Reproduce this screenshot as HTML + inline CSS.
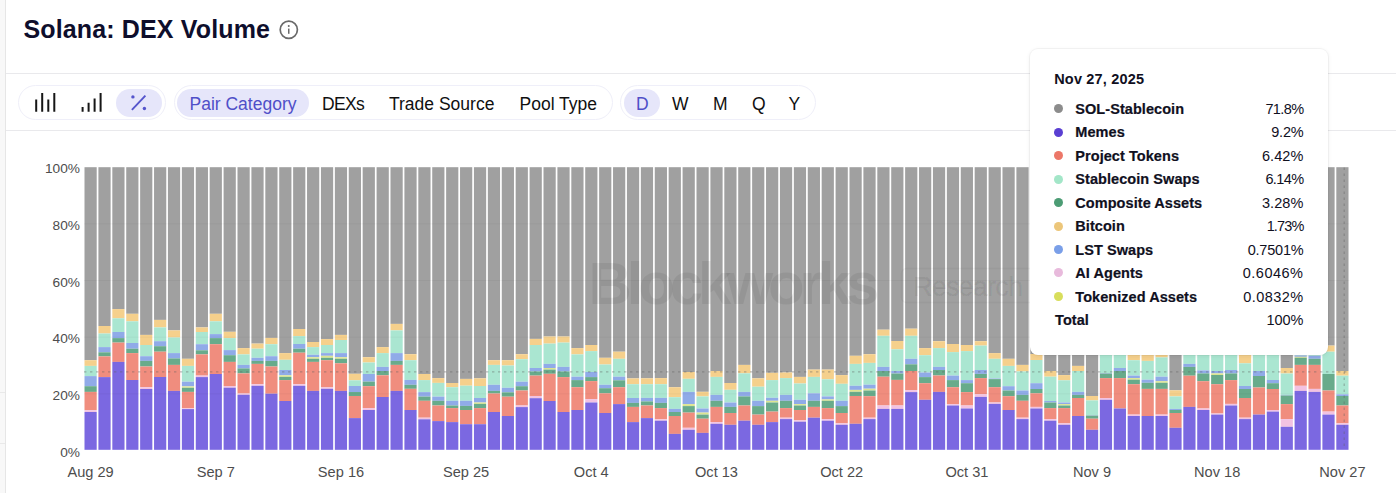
<!DOCTYPE html>
<html><head><meta charset="utf-8"><title>Solana: DEX Volume</title>
<style>
html,body{margin:0;padding:0;}
body{width:1396px;height:493px;overflow:hidden;background:#fff;position:relative;font-family:"Liberation Sans",sans-serif;}
.abs{position:absolute;}
#strip{left:0;top:0;width:5px;height:493px;background:#f8f8f8;border-right:1px solid #e6e6e6;}
.hl{left:6px;right:0;height:1px;background:#e9e9ec;}
#title{left:23.5px;top:13.5px;font-weight:bold;font-size:25px;line-height:30px;color:#0e0e2c;letter-spacing:0.14px;white-space:nowrap;}
.pill{top:85px;height:33px;border:1px solid #efeff9;border-radius:18px;background:#fff;box-sizing:content-box;}
.chip{top:88.5px;height:28px;border-radius:14px;background:#e6e6fa;}
.tb{top:90px;height:28px;line-height:28px;font-size:17.5px;color:#101010;white-space:nowrap;letter-spacing:0px;}
.tb.on{color:#4f4fc8;}
svg text{font-family:"Liberation Sans",sans-serif;}
#tip{left:1029.5px;top:48.5px;width:298.5px;height:306px;background:#fff;border-radius:8px;box-shadow:0 0 0 1px rgba(0,0,0,0.035),0 1px 5px rgba(0,0,0,0.07);}
#tip .hd{position:absolute;left:24.7px;top:20.9px;font-weight:bold;font-size:14.5px;line-height:20px;color:#10101e;letter-spacing:0.18px;white-space:nowrap;}
#tip .row{position:absolute;left:0;width:100%;height:20px;line-height:20px;font-size:14.5px;color:#10101e;}
#tip .dot{position:absolute;left:24.3px;top:5.4px;width:9px;height:9px;border-radius:50%;}
#tip .nm{position:absolute;left:45.8px;top:0;font-weight:bold;-webkit-text-stroke:0.2px #10101e;letter-spacing:0.06px;white-space:nowrap;}
#tip .vl{position:absolute;right:24.5px;top:0;letter-spacing:0px;white-space:nowrap;}
</style></head><body>
<div id="strip" class="abs"></div>
<div class="abs" style="left:0;top:392px;width:5px;height:1px;background:#e9e9e9"></div>
<div class="abs" style="left:0;top:443px;width:5px;height:1px;background:#e9e9e9"></div>
<div class="abs hl" style="top:73px"></div>
<div class="abs hl" style="top:130px"></div>
<div id="title" class="abs">Solana: DEX Volume</div>
<svg class="abs" style="left:278px;top:19px" width="22" height="22" viewBox="0 0 22 22"><circle cx="10.8" cy="10.7" r="8.6" fill="none" stroke="#6a6a6a" stroke-width="1.7"/><rect x="10" y="9.6" width="1.5" height="5.2" fill="#6a6a6a"/><circle cx="10.75" cy="7" r="1" fill="#6a6a6a"/></svg>

<div class="abs pill" style="left:18px;width:145.5px"></div>
<div class="abs chip" style="left:115.5px;width:46.5px"></div>
<svg class="abs" style="left:0;top:80px" width="180" height="45" viewBox="0 80 180 45">
<g stroke="#161616" stroke-width="2" fill="none">
<path d="M36.2 111.7V99.5M42.2 111.7V93M48.3 111.7V99.5M54.3 111.7V93"/>
<path d="M82.6 111.7V107M88.6 111.7V102.7M94.6 111.7V98.4M100.6 111.7V93"/>
</g>
<path d="M131.9 109.8L145.4 95.6" stroke="#5555cc" stroke-width="1.9" fill="none"/>
<circle cx="132.9" cy="96.9" r="1.7" fill="#5555cc"/><circle cx="144.4" cy="108.5" r="1.7" fill="#5555cc"/>
</svg>

<div class="abs pill" style="left:173.5px;width:437.5px"></div>
<div class="abs chip" style="left:176.5px;width:132px"></div>
<div class="abs tb on" id="t1" style="left:189.5px">Pair Category</div>
<div class="abs tb" id="t2" style="left:322px;letter-spacing:-0.7px">DEXs</div>
<div class="abs tb" id="t3" style="left:389px">Trade Source</div>
<div class="abs tb" id="t4" style="left:519.5px">Pool Type</div>

<div class="abs pill" style="left:619.5px;width:194.5px"></div>
<div class="abs chip" style="left:623.5px;width:36px"></div>
<div class="abs tb on" id="t5" style="left:636px">D</div>
<div class="abs tb" id="t6" style="left:672px">W</div>
<div class="abs tb" id="t7" style="left:713px">M</div>
<div class="abs tb" id="t8" style="left:752px">Q</div>
<div class="abs tb" id="t9" style="left:788.5px">Y</div>

<svg class="abs" style="left:0;top:0" width="1396" height="493" viewBox="0 0 1396 493">
<g shape-rendering="auto">
<rect x="84.50" y="167.20" width="12.2" height="193.00" fill="#a0a0a0"/>
<rect x="84.50" y="360.20" width="12.2" height="5.70" fill="#f5d08c"/>
<rect x="84.50" y="365.90" width="12.2" height="10.20" fill="#aae6d1"/>
<rect x="84.50" y="376.10" width="12.2" height="10.10" fill="#90abe8"/>
<rect x="84.50" y="386.20" width="12.2" height="5.70" fill="#68ab8b"/>
<rect x="84.50" y="391.90" width="12.2" height="18.30" fill="#f08d7e"/>
<rect x="84.50" y="410.20" width="12.2" height="1.80" fill="#f2c2e2"/>
<rect x="84.50" y="412.00" width="12.2" height="37.80" fill="#7b68e1"/>
<rect x="98.41" y="167.20" width="12.2" height="158.80" fill="#a0a0a0"/>
<rect x="98.41" y="326.00" width="12.2" height="7.50" fill="#f5d08c"/>
<rect x="98.41" y="333.50" width="12.2" height="13.60" fill="#aae6d1"/>
<rect x="98.41" y="347.10" width="12.2" height="5.20" fill="#90abe8"/>
<rect x="98.41" y="352.30" width="12.2" height="4.10" fill="#68ab8b"/>
<rect x="98.41" y="356.40" width="12.2" height="20.70" fill="#f08d7e"/>
<rect x="98.41" y="377.10" width="12.2" height="72.70" fill="#7b68e1"/>
<rect x="112.32" y="167.20" width="12.2" height="141.90" fill="#a0a0a0"/>
<rect x="112.32" y="309.10" width="12.2" height="9.20" fill="#f5d08c"/>
<rect x="112.32" y="318.30" width="12.2" height="13.70" fill="#aae6d1"/>
<rect x="112.32" y="332.00" width="12.2" height="6.10" fill="#90abe8"/>
<rect x="112.32" y="338.10" width="12.2" height="4.50" fill="#68ab8b"/>
<rect x="112.32" y="342.60" width="12.2" height="19.30" fill="#f08d7e"/>
<rect x="112.32" y="361.90" width="12.2" height="87.90" fill="#7b68e1"/>
<rect x="126.23" y="167.20" width="12.2" height="146.60" fill="#a0a0a0"/>
<rect x="126.23" y="313.80" width="12.2" height="7.50" fill="#f5d08c"/>
<rect x="126.23" y="321.30" width="12.2" height="21.70" fill="#aae6d1"/>
<rect x="126.23" y="343.00" width="12.2" height="5.70" fill="#90abe8"/>
<rect x="126.23" y="348.70" width="12.2" height="4.40" fill="#68ab8b"/>
<rect x="126.23" y="353.10" width="12.2" height="26.90" fill="#f08d7e"/>
<rect x="126.23" y="380.00" width="12.2" height="69.80" fill="#7b68e1"/>
<rect x="140.14" y="167.20" width="12.2" height="167.70" fill="#a0a0a0"/>
<rect x="140.14" y="334.90" width="12.2" height="10.10" fill="#f5d08c"/>
<rect x="140.14" y="345.00" width="12.2" height="11.20" fill="#aae6d1"/>
<rect x="140.14" y="356.20" width="12.2" height="4.70" fill="#90abe8"/>
<rect x="140.14" y="360.90" width="12.2" height="5.60" fill="#68ab8b"/>
<rect x="140.14" y="366.50" width="12.2" height="20.70" fill="#f08d7e"/>
<rect x="140.14" y="387.20" width="12.2" height="1.80" fill="#f2c2e2"/>
<rect x="140.14" y="389.00" width="12.2" height="60.80" fill="#7b68e1"/>
<rect x="154.05" y="167.20" width="12.2" height="152.70" fill="#a0a0a0"/>
<rect x="154.05" y="319.90" width="12.2" height="7.50" fill="#f5d08c"/>
<rect x="154.05" y="327.40" width="12.2" height="13.80" fill="#aae6d1"/>
<rect x="154.05" y="341.20" width="12.2" height="5.00" fill="#90abe8"/>
<rect x="154.05" y="346.20" width="12.2" height="5.50" fill="#68ab8b"/>
<rect x="154.05" y="351.70" width="12.2" height="25.30" fill="#f08d7e"/>
<rect x="154.05" y="377.00" width="12.2" height="72.80" fill="#7b68e1"/>
<rect x="167.95" y="167.20" width="12.2" height="163.20" fill="#a0a0a0"/>
<rect x="167.95" y="330.40" width="12.2" height="7.10" fill="#f5d08c"/>
<rect x="167.95" y="337.50" width="12.2" height="15.60" fill="#aae6d1"/>
<rect x="167.95" y="353.10" width="12.2" height="5.30" fill="#90abe8"/>
<rect x="167.95" y="358.40" width="12.2" height="6.50" fill="#68ab8b"/>
<rect x="167.95" y="364.90" width="12.2" height="26.00" fill="#f08d7e"/>
<rect x="167.95" y="390.90" width="12.2" height="58.90" fill="#7b68e1"/>
<rect x="181.86" y="167.20" width="12.2" height="191.60" fill="#a0a0a0"/>
<rect x="181.86" y="358.80" width="12.2" height="7.10" fill="#f5d08c"/>
<rect x="181.86" y="365.90" width="12.2" height="15.80" fill="#aae6d1"/>
<rect x="181.86" y="381.70" width="12.2" height="4.70" fill="#90abe8"/>
<rect x="181.86" y="386.40" width="12.2" height="1.40" fill="#dbe590"/>
<rect x="181.86" y="387.80" width="12.2" height="4.10" fill="#68ab8b"/>
<rect x="181.86" y="391.90" width="12.2" height="16.40" fill="#f08d7e"/>
<rect x="181.86" y="408.30" width="12.2" height="0.80" fill="#f2c2e2"/>
<rect x="181.86" y="409.10" width="12.2" height="40.70" fill="#7b68e1"/>
<rect x="195.77" y="167.20" width="12.2" height="160.20" fill="#a0a0a0"/>
<rect x="195.77" y="327.40" width="12.2" height="4.60" fill="#f5d08c"/>
<rect x="195.77" y="332.00" width="12.2" height="12.20" fill="#aae6d1"/>
<rect x="195.77" y="344.20" width="12.2" height="6.10" fill="#90abe8"/>
<rect x="195.77" y="350.30" width="12.2" height="4.10" fill="#68ab8b"/>
<rect x="195.77" y="354.40" width="12.2" height="21.20" fill="#f08d7e"/>
<rect x="195.77" y="375.60" width="12.2" height="1.50" fill="#f2c2e2"/>
<rect x="195.77" y="377.10" width="12.2" height="72.70" fill="#7b68e1"/>
<rect x="209.68" y="167.20" width="12.2" height="146.60" fill="#a0a0a0"/>
<rect x="209.68" y="313.80" width="12.2" height="7.50" fill="#f5d08c"/>
<rect x="209.68" y="321.30" width="12.2" height="12.80" fill="#aae6d1"/>
<rect x="209.68" y="334.10" width="12.2" height="4.00" fill="#90abe8"/>
<rect x="209.68" y="338.10" width="12.2" height="6.10" fill="#68ab8b"/>
<rect x="209.68" y="344.20" width="12.2" height="29.80" fill="#f08d7e"/>
<rect x="209.68" y="374.00" width="12.2" height="75.80" fill="#7b68e1"/>
<rect x="223.59" y="167.20" width="12.2" height="164.60" fill="#a0a0a0"/>
<rect x="223.59" y="331.80" width="12.2" height="6.30" fill="#f5d08c"/>
<rect x="223.59" y="338.10" width="12.2" height="12.00" fill="#aae6d1"/>
<rect x="223.59" y="350.10" width="12.2" height="5.10" fill="#90abe8"/>
<rect x="223.59" y="355.20" width="12.2" height="6.70" fill="#68ab8b"/>
<rect x="223.59" y="361.90" width="12.2" height="24.10" fill="#f08d7e"/>
<rect x="223.59" y="386.00" width="12.2" height="1.70" fill="#f2c2e2"/>
<rect x="223.59" y="387.70" width="12.2" height="62.10" fill="#7b68e1"/>
<rect x="237.50" y="167.20" width="12.2" height="180.90" fill="#a0a0a0"/>
<rect x="237.50" y="348.10" width="12.2" height="6.30" fill="#f5d08c"/>
<rect x="237.50" y="354.40" width="12.2" height="10.50" fill="#aae6d1"/>
<rect x="237.50" y="364.90" width="12.2" height="3.50" fill="#90abe8"/>
<rect x="237.50" y="368.40" width="12.2" height="5.00" fill="#68ab8b"/>
<rect x="237.50" y="373.40" width="12.2" height="20.10" fill="#f08d7e"/>
<rect x="237.50" y="393.50" width="12.2" height="1.30" fill="#f2c2e2"/>
<rect x="237.50" y="394.80" width="12.2" height="55.00" fill="#7b68e1"/>
<rect x="251.41" y="167.20" width="12.2" height="176.40" fill="#a0a0a0"/>
<rect x="251.41" y="343.60" width="12.2" height="5.10" fill="#f5d08c"/>
<rect x="251.41" y="348.70" width="12.2" height="9.10" fill="#aae6d1"/>
<rect x="251.41" y="357.80" width="12.2" height="3.10" fill="#90abe8"/>
<rect x="251.41" y="360.90" width="12.2" height="3.00" fill="#68ab8b"/>
<rect x="251.41" y="363.90" width="12.2" height="20.30" fill="#f08d7e"/>
<rect x="251.41" y="384.20" width="12.2" height="1.60" fill="#f2c2e2"/>
<rect x="251.41" y="385.80" width="12.2" height="64.00" fill="#7b68e1"/>
<rect x="265.32" y="167.20" width="12.2" height="170.70" fill="#a0a0a0"/>
<rect x="265.32" y="337.90" width="12.2" height="6.30" fill="#f5d08c"/>
<rect x="265.32" y="344.20" width="12.2" height="12.00" fill="#aae6d1"/>
<rect x="265.32" y="356.20" width="12.2" height="4.70" fill="#90abe8"/>
<rect x="265.32" y="360.90" width="12.2" height="5.60" fill="#68ab8b"/>
<rect x="265.32" y="366.50" width="12.2" height="27.20" fill="#f08d7e"/>
<rect x="265.32" y="393.70" width="12.2" height="56.10" fill="#7b68e1"/>
<rect x="279.23" y="167.20" width="12.2" height="185.90" fill="#a0a0a0"/>
<rect x="279.23" y="353.10" width="12.2" height="6.70" fill="#f5d08c"/>
<rect x="279.23" y="359.80" width="12.2" height="10.20" fill="#aae6d1"/>
<rect x="279.23" y="370.00" width="12.2" height="5.30" fill="#90abe8"/>
<rect x="279.23" y="375.30" width="12.2" height="1.60" fill="#dbe590"/>
<rect x="279.23" y="376.90" width="12.2" height="3.20" fill="#68ab8b"/>
<rect x="279.23" y="380.10" width="12.2" height="20.90" fill="#f08d7e"/>
<rect x="279.23" y="401.00" width="12.2" height="48.80" fill="#7b68e1"/>
<rect x="293.13" y="167.20" width="12.2" height="161.80" fill="#a0a0a0"/>
<rect x="293.13" y="329.00" width="12.2" height="7.10" fill="#f5d08c"/>
<rect x="293.13" y="336.10" width="12.2" height="7.90" fill="#aae6d1"/>
<rect x="293.13" y="344.00" width="12.2" height="4.70" fill="#90abe8"/>
<rect x="293.13" y="348.70" width="12.2" height="4.00" fill="#68ab8b"/>
<rect x="293.13" y="352.70" width="12.2" height="31.50" fill="#f08d7e"/>
<rect x="293.13" y="384.20" width="12.2" height="1.60" fill="#f2c2e2"/>
<rect x="293.13" y="385.80" width="12.2" height="64.00" fill="#7b68e1"/>
<rect x="307.04" y="167.20" width="12.2" height="174.80" fill="#a0a0a0"/>
<rect x="307.04" y="342.00" width="12.2" height="5.10" fill="#f5d08c"/>
<rect x="307.04" y="347.10" width="12.2" height="7.70" fill="#aae6d1"/>
<rect x="307.04" y="354.80" width="12.2" height="2.40" fill="#90abe8"/>
<rect x="307.04" y="357.20" width="12.2" height="1.60" fill="#dbe590"/>
<rect x="307.04" y="358.80" width="12.2" height="3.10" fill="#68ab8b"/>
<rect x="307.04" y="361.90" width="12.2" height="29.00" fill="#f08d7e"/>
<rect x="307.04" y="390.90" width="12.2" height="58.90" fill="#7b68e1"/>
<rect x="320.95" y="167.20" width="12.2" height="171.90" fill="#a0a0a0"/>
<rect x="320.95" y="339.10" width="12.2" height="5.90" fill="#f5d08c"/>
<rect x="320.95" y="345.00" width="12.2" height="8.10" fill="#aae6d1"/>
<rect x="320.95" y="353.10" width="12.2" height="2.70" fill="#90abe8"/>
<rect x="320.95" y="355.80" width="12.2" height="2.00" fill="#dbe590"/>
<rect x="320.95" y="357.80" width="12.2" height="2.40" fill="#68ab8b"/>
<rect x="320.95" y="360.20" width="12.2" height="27.20" fill="#f08d7e"/>
<rect x="320.95" y="387.40" width="12.2" height="1.40" fill="#f2c2e2"/>
<rect x="320.95" y="388.80" width="12.2" height="61.00" fill="#7b68e1"/>
<rect x="334.86" y="167.20" width="12.2" height="167.70" fill="#a0a0a0"/>
<rect x="334.86" y="334.90" width="12.2" height="5.10" fill="#f5d08c"/>
<rect x="334.86" y="340.00" width="12.2" height="13.10" fill="#aae6d1"/>
<rect x="334.86" y="353.10" width="12.2" height="4.10" fill="#90abe8"/>
<rect x="334.86" y="357.20" width="12.2" height="1.60" fill="#dbe590"/>
<rect x="334.86" y="358.80" width="12.2" height="4.50" fill="#68ab8b"/>
<rect x="334.86" y="363.30" width="12.2" height="27.60" fill="#f08d7e"/>
<rect x="334.86" y="390.90" width="12.2" height="58.90" fill="#7b68e1"/>
<rect x="348.77" y="167.20" width="12.2" height="206.60" fill="#a0a0a0"/>
<rect x="348.77" y="373.80" width="12.2" height="6.50" fill="#f5d08c"/>
<rect x="348.77" y="380.30" width="12.2" height="5.70" fill="#aae6d1"/>
<rect x="348.77" y="386.00" width="12.2" height="6.00" fill="#90abe8"/>
<rect x="348.77" y="392.00" width="12.2" height="4.00" fill="#68ab8b"/>
<rect x="348.77" y="396.00" width="12.2" height="22.10" fill="#f08d7e"/>
<rect x="348.77" y="418.10" width="12.2" height="31.70" fill="#7b68e1"/>
<rect x="362.68" y="167.20" width="12.2" height="190.00" fill="#a0a0a0"/>
<rect x="362.68" y="357.20" width="12.2" height="5.30" fill="#f5d08c"/>
<rect x="362.68" y="362.50" width="12.2" height="11.50" fill="#aae6d1"/>
<rect x="362.68" y="374.00" width="12.2" height="7.60" fill="#90abe8"/>
<rect x="362.68" y="381.60" width="12.2" height="4.60" fill="#68ab8b"/>
<rect x="362.68" y="386.20" width="12.2" height="21.90" fill="#f08d7e"/>
<rect x="362.68" y="408.10" width="12.2" height="1.90" fill="#f2c2e2"/>
<rect x="362.68" y="410.00" width="12.2" height="39.80" fill="#7b68e1"/>
<rect x="376.59" y="167.20" width="12.2" height="179.90" fill="#a0a0a0"/>
<rect x="376.59" y="347.10" width="12.2" height="6.00" fill="#f5d08c"/>
<rect x="376.59" y="353.10" width="12.2" height="13.80" fill="#aae6d1"/>
<rect x="376.59" y="366.90" width="12.2" height="4.10" fill="#90abe8"/>
<rect x="376.59" y="371.00" width="12.2" height="4.30" fill="#68ab8b"/>
<rect x="376.59" y="375.30" width="12.2" height="21.70" fill="#f08d7e"/>
<rect x="376.59" y="397.00" width="12.2" height="52.80" fill="#7b68e1"/>
<rect x="390.50" y="167.20" width="12.2" height="156.70" fill="#a0a0a0"/>
<rect x="390.50" y="323.90" width="12.2" height="6.50" fill="#f5d08c"/>
<rect x="390.50" y="330.40" width="12.2" height="22.70" fill="#aae6d1"/>
<rect x="390.50" y="353.10" width="12.2" height="7.80" fill="#90abe8"/>
<rect x="390.50" y="360.90" width="12.2" height="4.00" fill="#68ab8b"/>
<rect x="390.50" y="364.90" width="12.2" height="26.00" fill="#f08d7e"/>
<rect x="390.50" y="390.90" width="12.2" height="58.90" fill="#7b68e1"/>
<rect x="404.41" y="167.20" width="12.2" height="187.00" fill="#a0a0a0"/>
<rect x="404.41" y="354.20" width="12.2" height="6.00" fill="#f5d08c"/>
<rect x="404.41" y="360.20" width="12.2" height="19.70" fill="#aae6d1"/>
<rect x="404.41" y="379.90" width="12.2" height="4.90" fill="#90abe8"/>
<rect x="404.41" y="384.80" width="12.2" height="4.00" fill="#68ab8b"/>
<rect x="404.41" y="388.80" width="12.2" height="21.20" fill="#f08d7e"/>
<rect x="404.41" y="410.00" width="12.2" height="39.80" fill="#7b68e1"/>
<rect x="418.32" y="167.20" width="12.2" height="206.80" fill="#a0a0a0"/>
<rect x="418.32" y="374.00" width="12.2" height="6.10" fill="#f5d08c"/>
<rect x="418.32" y="380.10" width="12.2" height="12.00" fill="#aae6d1"/>
<rect x="418.32" y="392.10" width="12.2" height="4.50" fill="#90abe8"/>
<rect x="418.32" y="396.60" width="12.2" height="4.20" fill="#68ab8b"/>
<rect x="418.32" y="400.80" width="12.2" height="16.90" fill="#f08d7e"/>
<rect x="418.32" y="417.70" width="12.2" height="1.60" fill="#f2c2e2"/>
<rect x="418.32" y="419.30" width="12.2" height="30.50" fill="#7b68e1"/>
<rect x="432.23" y="167.20" width="12.2" height="210.90" fill="#a0a0a0"/>
<rect x="432.23" y="378.10" width="12.2" height="4.80" fill="#f5d08c"/>
<rect x="432.23" y="382.90" width="12.2" height="13.70" fill="#aae6d1"/>
<rect x="432.23" y="396.60" width="12.2" height="4.20" fill="#90abe8"/>
<rect x="432.23" y="400.80" width="12.2" height="4.70" fill="#68ab8b"/>
<rect x="432.23" y="405.50" width="12.2" height="15.60" fill="#f08d7e"/>
<rect x="432.23" y="421.10" width="12.2" height="28.70" fill="#7b68e1"/>
<rect x="446.13" y="167.20" width="12.2" height="215.80" fill="#a0a0a0"/>
<rect x="446.13" y="383.00" width="12.2" height="4.20" fill="#f5d08c"/>
<rect x="446.13" y="387.20" width="12.2" height="13.60" fill="#aae6d1"/>
<rect x="446.13" y="400.80" width="12.2" height="4.70" fill="#90abe8"/>
<rect x="446.13" y="405.50" width="12.2" height="2.60" fill="#68ab8b"/>
<rect x="446.13" y="408.10" width="12.2" height="14.00" fill="#f08d7e"/>
<rect x="446.13" y="422.10" width="12.2" height="27.70" fill="#7b68e1"/>
<rect x="460.04" y="167.20" width="12.2" height="211.70" fill="#a0a0a0"/>
<rect x="460.04" y="378.90" width="12.2" height="6.80" fill="#f5d08c"/>
<rect x="460.04" y="385.70" width="12.2" height="15.10" fill="#aae6d1"/>
<rect x="460.04" y="400.80" width="12.2" height="5.10" fill="#90abe8"/>
<rect x="460.04" y="405.90" width="12.2" height="4.10" fill="#68ab8b"/>
<rect x="460.04" y="410.00" width="12.2" height="14.20" fill="#f08d7e"/>
<rect x="460.04" y="424.20" width="12.2" height="25.60" fill="#7b68e1"/>
<rect x="473.95" y="167.20" width="12.2" height="211.10" fill="#a0a0a0"/>
<rect x="473.95" y="378.30" width="12.2" height="7.70" fill="#f5d08c"/>
<rect x="473.95" y="386.00" width="12.2" height="12.00" fill="#aae6d1"/>
<rect x="473.95" y="398.00" width="12.2" height="4.50" fill="#90abe8"/>
<rect x="473.95" y="402.50" width="12.2" height="1.40" fill="#dbe590"/>
<rect x="473.95" y="403.90" width="12.2" height="4.20" fill="#68ab8b"/>
<rect x="473.95" y="408.10" width="12.2" height="16.10" fill="#f08d7e"/>
<rect x="473.95" y="424.20" width="12.2" height="25.60" fill="#7b68e1"/>
<rect x="487.86" y="167.20" width="12.2" height="193.00" fill="#a0a0a0"/>
<rect x="487.86" y="360.20" width="12.2" height="4.70" fill="#f5d08c"/>
<rect x="487.86" y="364.90" width="12.2" height="19.90" fill="#aae6d1"/>
<rect x="487.86" y="384.80" width="12.2" height="6.10" fill="#90abe8"/>
<rect x="487.86" y="390.90" width="12.2" height="2.60" fill="#68ab8b"/>
<rect x="487.86" y="393.50" width="12.2" height="18.50" fill="#f08d7e"/>
<rect x="487.86" y="412.00" width="12.2" height="37.80" fill="#7b68e1"/>
<rect x="501.77" y="167.20" width="12.2" height="193.00" fill="#a0a0a0"/>
<rect x="501.77" y="360.20" width="12.2" height="5.30" fill="#f5d08c"/>
<rect x="501.77" y="365.50" width="12.2" height="22.30" fill="#aae6d1"/>
<rect x="501.77" y="387.80" width="12.2" height="4.50" fill="#90abe8"/>
<rect x="501.77" y="392.30" width="12.2" height="4.40" fill="#68ab8b"/>
<rect x="501.77" y="396.70" width="12.2" height="19.30" fill="#f08d7e"/>
<rect x="501.77" y="416.00" width="12.2" height="33.80" fill="#7b68e1"/>
<rect x="515.68" y="167.20" width="12.2" height="187.00" fill="#a0a0a0"/>
<rect x="515.68" y="354.20" width="12.2" height="5.00" fill="#f5d08c"/>
<rect x="515.68" y="359.20" width="12.2" height="22.50" fill="#aae6d1"/>
<rect x="515.68" y="381.70" width="12.2" height="4.50" fill="#90abe8"/>
<rect x="515.68" y="386.20" width="12.2" height="4.30" fill="#68ab8b"/>
<rect x="515.68" y="390.50" width="12.2" height="15.00" fill="#f08d7e"/>
<rect x="515.68" y="405.50" width="12.2" height="1.60" fill="#f2c2e2"/>
<rect x="515.68" y="407.10" width="12.2" height="42.70" fill="#7b68e1"/>
<rect x="529.59" y="167.20" width="12.2" height="171.70" fill="#a0a0a0"/>
<rect x="529.59" y="338.90" width="12.2" height="6.10" fill="#f5d08c"/>
<rect x="529.59" y="345.00" width="12.2" height="23.00" fill="#aae6d1"/>
<rect x="529.59" y="368.00" width="12.2" height="3.40" fill="#90abe8"/>
<rect x="529.59" y="371.40" width="12.2" height="4.20" fill="#68ab8b"/>
<rect x="529.59" y="375.60" width="12.2" height="20.40" fill="#f08d7e"/>
<rect x="529.59" y="396.00" width="12.2" height="2.20" fill="#f2c2e2"/>
<rect x="529.59" y="398.20" width="12.2" height="51.60" fill="#7b68e1"/>
<rect x="543.50" y="167.20" width="12.2" height="169.30" fill="#a0a0a0"/>
<rect x="543.50" y="336.50" width="12.2" height="7.10" fill="#f5d08c"/>
<rect x="543.50" y="343.60" width="12.2" height="20.30" fill="#aae6d1"/>
<rect x="543.50" y="363.90" width="12.2" height="4.10" fill="#90abe8"/>
<rect x="543.50" y="368.00" width="12.2" height="1.60" fill="#dbe590"/>
<rect x="543.50" y="369.60" width="12.2" height="4.20" fill="#68ab8b"/>
<rect x="543.50" y="373.80" width="12.2" height="27.20" fill="#f08d7e"/>
<rect x="543.50" y="401.00" width="12.2" height="48.80" fill="#7b68e1"/>
<rect x="557.41" y="167.20" width="12.2" height="169.30" fill="#a0a0a0"/>
<rect x="557.41" y="336.50" width="12.2" height="6.10" fill="#f5d08c"/>
<rect x="557.41" y="342.60" width="12.2" height="24.30" fill="#aae6d1"/>
<rect x="557.41" y="366.90" width="12.2" height="4.50" fill="#90abe8"/>
<rect x="557.41" y="371.40" width="12.2" height="5.70" fill="#68ab8b"/>
<rect x="557.41" y="377.10" width="12.2" height="34.90" fill="#f08d7e"/>
<rect x="557.41" y="412.00" width="12.2" height="37.80" fill="#7b68e1"/>
<rect x="571.32" y="167.20" width="12.2" height="180.90" fill="#a0a0a0"/>
<rect x="571.32" y="348.10" width="12.2" height="6.30" fill="#f5d08c"/>
<rect x="571.32" y="354.40" width="12.2" height="22.30" fill="#aae6d1"/>
<rect x="571.32" y="376.70" width="12.2" height="3.40" fill="#90abe8"/>
<rect x="571.32" y="380.10" width="12.2" height="7.10" fill="#68ab8b"/>
<rect x="571.32" y="387.20" width="12.2" height="22.80" fill="#f08d7e"/>
<rect x="571.32" y="410.00" width="12.2" height="39.80" fill="#7b68e1"/>
<rect x="585.22" y="167.20" width="12.2" height="177.80" fill="#a0a0a0"/>
<rect x="585.22" y="345.00" width="12.2" height="6.10" fill="#f5d08c"/>
<rect x="585.22" y="351.10" width="12.2" height="20.90" fill="#aae6d1"/>
<rect x="585.22" y="372.00" width="12.2" height="5.10" fill="#90abe8"/>
<rect x="585.22" y="377.10" width="12.2" height="4.00" fill="#68ab8b"/>
<rect x="585.22" y="381.10" width="12.2" height="18.00" fill="#f08d7e"/>
<rect x="585.22" y="399.10" width="12.2" height="3.40" fill="#f2c2e2"/>
<rect x="585.22" y="402.50" width="12.2" height="47.30" fill="#7b68e1"/>
<rect x="599.13" y="167.20" width="12.2" height="190.60" fill="#a0a0a0"/>
<rect x="599.13" y="357.80" width="12.2" height="6.70" fill="#f5d08c"/>
<rect x="599.13" y="364.50" width="12.2" height="20.30" fill="#aae6d1"/>
<rect x="599.13" y="384.80" width="12.2" height="3.40" fill="#90abe8"/>
<rect x="599.13" y="388.20" width="12.2" height="5.10" fill="#68ab8b"/>
<rect x="599.13" y="393.30" width="12.2" height="19.70" fill="#f08d7e"/>
<rect x="599.13" y="413.00" width="12.2" height="36.80" fill="#7b68e1"/>
<rect x="613.04" y="167.20" width="12.2" height="184.50" fill="#a0a0a0"/>
<rect x="613.04" y="351.70" width="12.2" height="7.10" fill="#f5d08c"/>
<rect x="613.04" y="358.80" width="12.2" height="17.90" fill="#aae6d1"/>
<rect x="613.04" y="376.70" width="12.2" height="3.60" fill="#90abe8"/>
<rect x="613.04" y="380.30" width="12.2" height="6.90" fill="#68ab8b"/>
<rect x="613.04" y="387.20" width="12.2" height="16.90" fill="#f08d7e"/>
<rect x="613.04" y="404.10" width="12.2" height="45.70" fill="#7b68e1"/>
<rect x="626.95" y="167.20" width="12.2" height="211.20" fill="#a0a0a0"/>
<rect x="626.95" y="378.40" width="12.2" height="5.80" fill="#f5d08c"/>
<rect x="626.95" y="384.20" width="12.2" height="13.80" fill="#aae6d1"/>
<rect x="626.95" y="398.00" width="12.2" height="4.90" fill="#90abe8"/>
<rect x="626.95" y="402.90" width="12.2" height="4.00" fill="#68ab8b"/>
<rect x="626.95" y="406.90" width="12.2" height="15.20" fill="#f08d7e"/>
<rect x="626.95" y="422.10" width="12.2" height="27.70" fill="#7b68e1"/>
<rect x="640.86" y="167.20" width="12.2" height="211.10" fill="#a0a0a0"/>
<rect x="640.86" y="378.30" width="12.2" height="5.90" fill="#f5d08c"/>
<rect x="640.86" y="384.20" width="12.2" height="13.70" fill="#aae6d1"/>
<rect x="640.86" y="397.90" width="12.2" height="3.50" fill="#90abe8"/>
<rect x="640.86" y="401.40" width="12.2" height="4.10" fill="#68ab8b"/>
<rect x="640.86" y="405.50" width="12.2" height="12.60" fill="#f08d7e"/>
<rect x="640.86" y="418.10" width="12.2" height="31.70" fill="#7b68e1"/>
<rect x="654.77" y="167.20" width="12.2" height="210.90" fill="#a0a0a0"/>
<rect x="654.77" y="378.10" width="12.2" height="6.10" fill="#f5d08c"/>
<rect x="654.77" y="384.20" width="12.2" height="13.70" fill="#aae6d1"/>
<rect x="654.77" y="397.90" width="12.2" height="5.00" fill="#90abe8"/>
<rect x="654.77" y="402.90" width="12.2" height="5.20" fill="#68ab8b"/>
<rect x="654.77" y="408.10" width="12.2" height="11.20" fill="#f08d7e"/>
<rect x="654.77" y="419.30" width="12.2" height="1.40" fill="#f2c2e2"/>
<rect x="654.77" y="420.70" width="12.2" height="29.10" fill="#7b68e1"/>
<rect x="668.68" y="167.20" width="12.2" height="220.00" fill="#a0a0a0"/>
<rect x="668.68" y="387.20" width="12.2" height="10.00" fill="#f5d08c"/>
<rect x="668.68" y="397.20" width="12.2" height="11.70" fill="#aae6d1"/>
<rect x="668.68" y="408.90" width="12.2" height="3.10" fill="#90abe8"/>
<rect x="668.68" y="412.00" width="12.2" height="4.00" fill="#68ab8b"/>
<rect x="668.68" y="416.00" width="12.2" height="17.90" fill="#f08d7e"/>
<rect x="668.68" y="433.90" width="12.2" height="15.90" fill="#7b68e1"/>
<rect x="682.59" y="167.20" width="12.2" height="204.80" fill="#a0a0a0"/>
<rect x="682.59" y="372.00" width="12.2" height="6.80" fill="#f5d08c"/>
<rect x="682.59" y="378.80" width="12.2" height="13.10" fill="#aae6d1"/>
<rect x="682.59" y="391.90" width="12.2" height="12.20" fill="#90abe8"/>
<rect x="682.59" y="404.10" width="12.2" height="2.00" fill="#dbe590"/>
<rect x="682.59" y="406.10" width="12.2" height="6.50" fill="#68ab8b"/>
<rect x="682.59" y="412.60" width="12.2" height="15.20" fill="#f08d7e"/>
<rect x="682.59" y="427.80" width="12.2" height="2.00" fill="#f2c2e2"/>
<rect x="682.59" y="429.80" width="12.2" height="20.00" fill="#7b68e1"/>
<rect x="696.50" y="167.20" width="12.2" height="224.60" fill="#a0a0a0"/>
<rect x="696.50" y="391.80" width="12.2" height="4.60" fill="#f5d08c"/>
<rect x="696.50" y="396.40" width="12.2" height="12.10" fill="#aae6d1"/>
<rect x="696.50" y="408.50" width="12.2" height="4.10" fill="#90abe8"/>
<rect x="696.50" y="412.60" width="12.2" height="2.00" fill="#dbe590"/>
<rect x="696.50" y="414.60" width="12.2" height="4.10" fill="#68ab8b"/>
<rect x="696.50" y="418.70" width="12.2" height="14.20" fill="#f08d7e"/>
<rect x="696.50" y="432.90" width="12.2" height="16.90" fill="#7b68e1"/>
<rect x="710.41" y="167.20" width="12.2" height="203.80" fill="#a0a0a0"/>
<rect x="710.41" y="371.00" width="12.2" height="5.90" fill="#f5d08c"/>
<rect x="710.41" y="376.90" width="12.2" height="18.00" fill="#aae6d1"/>
<rect x="710.41" y="394.90" width="12.2" height="5.90" fill="#90abe8"/>
<rect x="710.41" y="400.80" width="12.2" height="6.10" fill="#68ab8b"/>
<rect x="710.41" y="406.90" width="12.2" height="15.20" fill="#f08d7e"/>
<rect x="710.41" y="422.10" width="12.2" height="1.70" fill="#f2c2e2"/>
<rect x="710.41" y="423.80" width="12.2" height="26.00" fill="#7b68e1"/>
<rect x="724.31" y="167.20" width="12.2" height="215.80" fill="#a0a0a0"/>
<rect x="724.31" y="383.00" width="12.2" height="6.80" fill="#f5d08c"/>
<rect x="724.31" y="389.80" width="12.2" height="12.70" fill="#aae6d1"/>
<rect x="724.31" y="402.50" width="12.2" height="4.40" fill="#90abe8"/>
<rect x="724.31" y="406.90" width="12.2" height="6.10" fill="#68ab8b"/>
<rect x="724.31" y="413.00" width="12.2" height="11.80" fill="#f08d7e"/>
<rect x="724.31" y="424.80" width="12.2" height="25.00" fill="#7b68e1"/>
<rect x="738.22" y="167.20" width="12.2" height="197.70" fill="#a0a0a0"/>
<rect x="738.22" y="364.90" width="12.2" height="8.40" fill="#f5d08c"/>
<rect x="738.22" y="373.30" width="12.2" height="18.60" fill="#aae6d1"/>
<rect x="738.22" y="391.90" width="12.2" height="4.50" fill="#90abe8"/>
<rect x="738.22" y="396.40" width="12.2" height="9.10" fill="#68ab8b"/>
<rect x="738.22" y="405.50" width="12.2" height="15.20" fill="#f08d7e"/>
<rect x="738.22" y="420.70" width="12.2" height="29.10" fill="#7b68e1"/>
<rect x="752.13" y="167.20" width="12.2" height="211.10" fill="#a0a0a0"/>
<rect x="752.13" y="378.30" width="12.2" height="8.40" fill="#f5d08c"/>
<rect x="752.13" y="386.70" width="12.2" height="14.10" fill="#aae6d1"/>
<rect x="752.13" y="400.80" width="12.2" height="5.30" fill="#90abe8"/>
<rect x="752.13" y="406.10" width="12.2" height="8.50" fill="#68ab8b"/>
<rect x="752.13" y="414.60" width="12.2" height="10.20" fill="#f08d7e"/>
<rect x="752.13" y="424.80" width="12.2" height="25.00" fill="#7b68e1"/>
<rect x="766.04" y="167.20" width="12.2" height="205.60" fill="#a0a0a0"/>
<rect x="766.04" y="372.80" width="12.2" height="7.30" fill="#f5d08c"/>
<rect x="766.04" y="380.10" width="12.2" height="17.70" fill="#aae6d1"/>
<rect x="766.04" y="397.80" width="12.2" height="3.00" fill="#90abe8"/>
<rect x="766.04" y="400.80" width="12.2" height="1.70" fill="#dbe590"/>
<rect x="766.04" y="402.50" width="12.2" height="9.10" fill="#68ab8b"/>
<rect x="766.04" y="411.60" width="12.2" height="10.50" fill="#f08d7e"/>
<rect x="766.04" y="422.10" width="12.2" height="27.70" fill="#7b68e1"/>
<rect x="779.95" y="167.20" width="12.2" height="205.30" fill="#a0a0a0"/>
<rect x="779.95" y="372.50" width="12.2" height="5.60" fill="#f5d08c"/>
<rect x="779.95" y="378.10" width="12.2" height="16.80" fill="#aae6d1"/>
<rect x="779.95" y="394.90" width="12.2" height="5.90" fill="#90abe8"/>
<rect x="779.95" y="400.80" width="12.2" height="7.30" fill="#68ab8b"/>
<rect x="779.95" y="408.10" width="12.2" height="9.60" fill="#f08d7e"/>
<rect x="779.95" y="417.70" width="12.2" height="1.40" fill="#f2c2e2"/>
<rect x="779.95" y="419.10" width="12.2" height="30.70" fill="#7b68e1"/>
<rect x="793.86" y="167.20" width="12.2" height="209.70" fill="#a0a0a0"/>
<rect x="793.86" y="376.90" width="12.2" height="6.60" fill="#f5d08c"/>
<rect x="793.86" y="383.50" width="12.2" height="16.30" fill="#aae6d1"/>
<rect x="793.86" y="399.80" width="12.2" height="4.30" fill="#90abe8"/>
<rect x="793.86" y="404.10" width="12.2" height="1.40" fill="#dbe590"/>
<rect x="793.86" y="405.50" width="12.2" height="4.50" fill="#68ab8b"/>
<rect x="793.86" y="410.00" width="12.2" height="10.30" fill="#f08d7e"/>
<rect x="793.86" y="420.30" width="12.2" height="1.40" fill="#f2c2e2"/>
<rect x="793.86" y="421.70" width="12.2" height="28.10" fill="#7b68e1"/>
<rect x="807.77" y="167.20" width="12.2" height="202.40" fill="#a0a0a0"/>
<rect x="807.77" y="369.60" width="12.2" height="7.30" fill="#f5d08c"/>
<rect x="807.77" y="376.90" width="12.2" height="16.40" fill="#aae6d1"/>
<rect x="807.77" y="393.30" width="12.2" height="7.50" fill="#90abe8"/>
<rect x="807.77" y="400.80" width="12.2" height="6.10" fill="#68ab8b"/>
<rect x="807.77" y="406.90" width="12.2" height="10.80" fill="#f08d7e"/>
<rect x="807.77" y="417.70" width="12.2" height="32.10" fill="#7b68e1"/>
<rect x="821.68" y="167.20" width="12.2" height="202.40" fill="#a0a0a0"/>
<rect x="821.68" y="369.60" width="12.2" height="9.70" fill="#f5d08c"/>
<rect x="821.68" y="379.30" width="12.2" height="17.10" fill="#aae6d1"/>
<rect x="821.68" y="396.40" width="12.2" height="3.00" fill="#90abe8"/>
<rect x="821.68" y="399.40" width="12.2" height="1.40" fill="#dbe590"/>
<rect x="821.68" y="400.80" width="12.2" height="7.30" fill="#68ab8b"/>
<rect x="821.68" y="408.10" width="12.2" height="11.00" fill="#f08d7e"/>
<rect x="821.68" y="419.10" width="12.2" height="1.60" fill="#f2c2e2"/>
<rect x="821.68" y="420.70" width="12.2" height="29.10" fill="#7b68e1"/>
<rect x="835.59" y="167.20" width="12.2" height="207.90" fill="#a0a0a0"/>
<rect x="835.59" y="375.10" width="12.2" height="8.70" fill="#f5d08c"/>
<rect x="835.59" y="383.80" width="12.2" height="17.00" fill="#aae6d1"/>
<rect x="835.59" y="400.80" width="12.2" height="5.30" fill="#90abe8"/>
<rect x="835.59" y="406.10" width="12.2" height="6.90" fill="#68ab8b"/>
<rect x="835.59" y="413.00" width="12.2" height="10.30" fill="#f08d7e"/>
<rect x="835.59" y="423.30" width="12.2" height="1.50" fill="#f2c2e2"/>
<rect x="835.59" y="424.80" width="12.2" height="25.00" fill="#7b68e1"/>
<rect x="849.50" y="167.20" width="12.2" height="188.60" fill="#a0a0a0"/>
<rect x="849.50" y="355.80" width="12.2" height="8.10" fill="#f5d08c"/>
<rect x="849.50" y="363.90" width="12.2" height="21.90" fill="#aae6d1"/>
<rect x="849.50" y="385.80" width="12.2" height="4.10" fill="#90abe8"/>
<rect x="849.50" y="389.90" width="12.2" height="1.90" fill="#dbe590"/>
<rect x="849.50" y="391.80" width="12.2" height="4.20" fill="#68ab8b"/>
<rect x="849.50" y="396.00" width="12.2" height="27.80" fill="#f08d7e"/>
<rect x="849.50" y="423.80" width="12.2" height="26.00" fill="#7b68e1"/>
<rect x="863.40" y="167.20" width="12.2" height="187.00" fill="#a0a0a0"/>
<rect x="863.40" y="354.20" width="12.2" height="8.70" fill="#f5d08c"/>
<rect x="863.40" y="362.90" width="12.2" height="21.80" fill="#aae6d1"/>
<rect x="863.40" y="384.70" width="12.2" height="4.00" fill="#90abe8"/>
<rect x="863.40" y="388.70" width="12.2" height="1.80" fill="#dbe590"/>
<rect x="863.40" y="390.50" width="12.2" height="5.70" fill="#68ab8b"/>
<rect x="863.40" y="396.20" width="12.2" height="21.50" fill="#f08d7e"/>
<rect x="863.40" y="417.70" width="12.2" height="1.40" fill="#f2c2e2"/>
<rect x="863.40" y="419.10" width="12.2" height="30.70" fill="#7b68e1"/>
<rect x="877.31" y="167.20" width="12.2" height="162.50" fill="#a0a0a0"/>
<rect x="877.31" y="329.70" width="12.2" height="6.10" fill="#f5d08c"/>
<rect x="877.31" y="335.80" width="12.2" height="31.10" fill="#aae6d1"/>
<rect x="877.31" y="366.90" width="12.2" height="4.10" fill="#90abe8"/>
<rect x="877.31" y="371.00" width="12.2" height="5.70" fill="#68ab8b"/>
<rect x="877.31" y="376.70" width="12.2" height="28.80" fill="#f08d7e"/>
<rect x="877.31" y="405.50" width="12.2" height="3.40" fill="#f2c2e2"/>
<rect x="877.31" y="408.90" width="12.2" height="40.90" fill="#7b68e1"/>
<rect x="891.22" y="167.20" width="12.2" height="173.80" fill="#a0a0a0"/>
<rect x="891.22" y="341.00" width="12.2" height="8.30" fill="#f5d08c"/>
<rect x="891.22" y="349.30" width="12.2" height="21.70" fill="#aae6d1"/>
<rect x="891.22" y="371.00" width="12.2" height="2.50" fill="#90abe8"/>
<rect x="891.22" y="373.50" width="12.2" height="6.40" fill="#68ab8b"/>
<rect x="891.22" y="379.90" width="12.2" height="25.60" fill="#f08d7e"/>
<rect x="891.22" y="405.50" width="12.2" height="3.40" fill="#f2c2e2"/>
<rect x="891.22" y="408.90" width="12.2" height="40.90" fill="#7b68e1"/>
<rect x="905.13" y="167.20" width="12.2" height="161.50" fill="#a0a0a0"/>
<rect x="905.13" y="328.70" width="12.2" height="7.10" fill="#f5d08c"/>
<rect x="905.13" y="335.80" width="12.2" height="23.00" fill="#aae6d1"/>
<rect x="905.13" y="358.80" width="12.2" height="5.50" fill="#90abe8"/>
<rect x="905.13" y="364.30" width="12.2" height="6.70" fill="#68ab8b"/>
<rect x="905.13" y="371.00" width="12.2" height="19.10" fill="#f08d7e"/>
<rect x="905.13" y="390.10" width="12.2" height="2.00" fill="#f2c2e2"/>
<rect x="905.13" y="392.10" width="12.2" height="57.70" fill="#7b68e1"/>
<rect x="919.04" y="167.20" width="12.2" height="180.90" fill="#a0a0a0"/>
<rect x="919.04" y="348.10" width="12.2" height="7.10" fill="#f5d08c"/>
<rect x="919.04" y="355.20" width="12.2" height="17.30" fill="#aae6d1"/>
<rect x="919.04" y="372.50" width="12.2" height="4.60" fill="#90abe8"/>
<rect x="919.04" y="377.10" width="12.2" height="6.10" fill="#68ab8b"/>
<rect x="919.04" y="383.20" width="12.2" height="16.60" fill="#f08d7e"/>
<rect x="919.04" y="399.80" width="12.2" height="50.00" fill="#7b68e1"/>
<rect x="932.95" y="167.20" width="12.2" height="174.00" fill="#a0a0a0"/>
<rect x="932.95" y="341.20" width="12.2" height="6.90" fill="#f5d08c"/>
<rect x="932.95" y="348.10" width="12.2" height="18.80" fill="#aae6d1"/>
<rect x="932.95" y="366.90" width="12.2" height="3.10" fill="#90abe8"/>
<rect x="932.95" y="370.00" width="12.2" height="5.50" fill="#68ab8b"/>
<rect x="932.95" y="375.50" width="12.2" height="16.40" fill="#f08d7e"/>
<rect x="932.95" y="391.90" width="12.2" height="57.90" fill="#7b68e1"/>
<rect x="946.86" y="167.20" width="12.2" height="176.80" fill="#a0a0a0"/>
<rect x="946.86" y="344.00" width="12.2" height="8.10" fill="#f5d08c"/>
<rect x="946.86" y="352.10" width="12.2" height="23.50" fill="#aae6d1"/>
<rect x="946.86" y="375.60" width="12.2" height="4.50" fill="#90abe8"/>
<rect x="946.86" y="380.10" width="12.2" height="7.10" fill="#68ab8b"/>
<rect x="946.86" y="387.20" width="12.2" height="16.90" fill="#f08d7e"/>
<rect x="946.86" y="404.10" width="12.2" height="1.40" fill="#f2c2e2"/>
<rect x="946.86" y="405.50" width="12.2" height="44.30" fill="#7b68e1"/>
<rect x="960.77" y="167.20" width="12.2" height="177.80" fill="#a0a0a0"/>
<rect x="960.77" y="345.00" width="12.2" height="6.10" fill="#f5d08c"/>
<rect x="960.77" y="351.10" width="12.2" height="29.00" fill="#aae6d1"/>
<rect x="960.77" y="380.10" width="12.2" height="3.10" fill="#90abe8"/>
<rect x="960.77" y="383.20" width="12.2" height="8.90" fill="#68ab8b"/>
<rect x="960.77" y="392.10" width="12.2" height="13.40" fill="#f08d7e"/>
<rect x="960.77" y="405.50" width="12.2" height="3.00" fill="#f2c2e2"/>
<rect x="960.77" y="408.50" width="12.2" height="41.30" fill="#7b68e1"/>
<rect x="974.68" y="167.20" width="12.2" height="174.00" fill="#a0a0a0"/>
<rect x="974.68" y="341.20" width="12.2" height="4.40" fill="#f5d08c"/>
<rect x="974.68" y="345.60" width="12.2" height="24.40" fill="#aae6d1"/>
<rect x="974.68" y="370.00" width="12.2" height="3.90" fill="#90abe8"/>
<rect x="974.68" y="373.90" width="12.2" height="4.20" fill="#68ab8b"/>
<rect x="974.68" y="378.10" width="12.2" height="16.20" fill="#f08d7e"/>
<rect x="974.68" y="394.30" width="12.2" height="2.60" fill="#f2c2e2"/>
<rect x="974.68" y="396.90" width="12.2" height="52.90" fill="#7b68e1"/>
<rect x="988.59" y="167.20" width="12.2" height="185.90" fill="#a0a0a0"/>
<rect x="988.59" y="353.10" width="12.2" height="5.70" fill="#f5d08c"/>
<rect x="988.59" y="358.80" width="12.2" height="19.70" fill="#aae6d1"/>
<rect x="988.59" y="378.50" width="12.2" height="0.60" fill="#90abe8"/>
<rect x="988.59" y="379.10" width="12.2" height="8.10" fill="#68ab8b"/>
<rect x="988.59" y="387.20" width="12.2" height="15.30" fill="#f08d7e"/>
<rect x="988.59" y="402.50" width="12.2" height="1.40" fill="#f2c2e2"/>
<rect x="988.59" y="403.90" width="12.2" height="45.90" fill="#7b68e1"/>
<rect x="1002.49" y="167.20" width="12.2" height="191.60" fill="#a0a0a0"/>
<rect x="1002.49" y="358.80" width="12.2" height="7.10" fill="#f5d08c"/>
<rect x="1002.49" y="365.90" width="12.2" height="20.30" fill="#aae6d1"/>
<rect x="1002.49" y="386.20" width="12.2" height="4.30" fill="#90abe8"/>
<rect x="1002.49" y="390.50" width="12.2" height="5.70" fill="#68ab8b"/>
<rect x="1002.49" y="396.20" width="12.2" height="13.80" fill="#f08d7e"/>
<rect x="1002.49" y="410.00" width="12.2" height="39.80" fill="#7b68e1"/>
<rect x="1016.40" y="167.20" width="12.2" height="197.70" fill="#a0a0a0"/>
<rect x="1016.40" y="364.90" width="12.2" height="6.50" fill="#f5d08c"/>
<rect x="1016.40" y="371.40" width="12.2" height="19.10" fill="#aae6d1"/>
<rect x="1016.40" y="390.50" width="12.2" height="4.40" fill="#90abe8"/>
<rect x="1016.40" y="394.90" width="12.2" height="5.90" fill="#68ab8b"/>
<rect x="1016.40" y="400.80" width="12.2" height="16.90" fill="#f08d7e"/>
<rect x="1016.40" y="417.70" width="12.2" height="1.40" fill="#f2c2e2"/>
<rect x="1016.40" y="419.10" width="12.2" height="30.70" fill="#7b68e1"/>
<rect x="1030.31" y="167.20" width="12.2" height="186.80" fill="#a0a0a0"/>
<rect x="1030.31" y="354.00" width="12.2" height="6.00" fill="#f5d08c"/>
<rect x="1030.31" y="360.00" width="12.2" height="23.20" fill="#aae6d1"/>
<rect x="1030.31" y="383.20" width="12.2" height="5.80" fill="#90abe8"/>
<rect x="1030.31" y="389.00" width="12.2" height="4.30" fill="#68ab8b"/>
<rect x="1030.31" y="393.30" width="12.2" height="13.60" fill="#f08d7e"/>
<rect x="1030.31" y="406.90" width="12.2" height="1.60" fill="#f2c2e2"/>
<rect x="1030.31" y="408.50" width="12.2" height="41.30" fill="#7b68e1"/>
<rect x="1044.22" y="167.20" width="12.2" height="203.80" fill="#a0a0a0"/>
<rect x="1044.22" y="371.00" width="12.2" height="5.70" fill="#f5d08c"/>
<rect x="1044.22" y="376.70" width="12.2" height="24.30" fill="#aae6d1"/>
<rect x="1044.22" y="401.00" width="12.2" height="1.50" fill="#90abe8"/>
<rect x="1044.22" y="402.50" width="12.2" height="5.60" fill="#68ab8b"/>
<rect x="1044.22" y="408.10" width="12.2" height="11.00" fill="#f08d7e"/>
<rect x="1044.22" y="419.10" width="12.2" height="1.60" fill="#f2c2e2"/>
<rect x="1044.22" y="420.70" width="12.2" height="29.10" fill="#7b68e1"/>
<rect x="1058.13" y="167.20" width="12.2" height="207.90" fill="#a0a0a0"/>
<rect x="1058.13" y="375.10" width="12.2" height="5.20" fill="#f5d08c"/>
<rect x="1058.13" y="380.30" width="12.2" height="22.20" fill="#aae6d1"/>
<rect x="1058.13" y="402.50" width="12.2" height="1.60" fill="#90abe8"/>
<rect x="1058.13" y="404.10" width="12.2" height="1.40" fill="#dbe590"/>
<rect x="1058.13" y="405.50" width="12.2" height="2.60" fill="#68ab8b"/>
<rect x="1058.13" y="408.10" width="12.2" height="15.20" fill="#f08d7e"/>
<rect x="1058.13" y="423.30" width="12.2" height="1.50" fill="#f2c2e2"/>
<rect x="1058.13" y="424.80" width="12.2" height="25.00" fill="#7b68e1"/>
<rect x="1072.04" y="167.20" width="12.2" height="198.70" fill="#a0a0a0"/>
<rect x="1072.04" y="365.90" width="12.2" height="5.10" fill="#f5d08c"/>
<rect x="1072.04" y="371.00" width="12.2" height="20.90" fill="#aae6d1"/>
<rect x="1072.04" y="391.90" width="12.2" height="3.00" fill="#90abe8"/>
<rect x="1072.04" y="394.90" width="12.2" height="3.10" fill="#68ab8b"/>
<rect x="1072.04" y="398.00" width="12.2" height="18.00" fill="#f08d7e"/>
<rect x="1072.04" y="416.00" width="12.2" height="33.80" fill="#7b68e1"/>
<rect x="1085.95" y="167.20" width="12.2" height="228.80" fill="#a0a0a0"/>
<rect x="1085.95" y="396.00" width="12.2" height="4.40" fill="#f5d08c"/>
<rect x="1085.95" y="400.40" width="12.2" height="14.80" fill="#aae6d1"/>
<rect x="1085.95" y="415.20" width="12.2" height="0.40" fill="#90abe8"/>
<rect x="1085.95" y="415.60" width="12.2" height="3.10" fill="#68ab8b"/>
<rect x="1085.95" y="418.70" width="12.2" height="11.10" fill="#f08d7e"/>
<rect x="1085.95" y="429.80" width="12.2" height="20.00" fill="#7b68e1"/>
<rect x="1099.86" y="167.20" width="12.2" height="176.80" fill="#a0a0a0"/>
<rect x="1099.86" y="344.00" width="12.2" height="6.00" fill="#f5d08c"/>
<rect x="1099.86" y="350.00" width="12.2" height="23.00" fill="#aae6d1"/>
<rect x="1099.86" y="373.00" width="12.2" height="0.60" fill="#90abe8"/>
<rect x="1099.86" y="373.60" width="12.2" height="4.50" fill="#68ab8b"/>
<rect x="1099.86" y="378.10" width="12.2" height="19.90" fill="#f08d7e"/>
<rect x="1099.86" y="398.00" width="12.2" height="1.80" fill="#f2c2e2"/>
<rect x="1099.86" y="399.80" width="12.2" height="50.00" fill="#7b68e1"/>
<rect x="1113.77" y="167.20" width="12.2" height="176.80" fill="#a0a0a0"/>
<rect x="1113.77" y="344.00" width="12.2" height="6.00" fill="#f5d08c"/>
<rect x="1113.77" y="350.00" width="12.2" height="18.00" fill="#aae6d1"/>
<rect x="1113.77" y="368.00" width="12.2" height="3.00" fill="#90abe8"/>
<rect x="1113.77" y="371.00" width="12.2" height="7.10" fill="#68ab8b"/>
<rect x="1113.77" y="378.10" width="12.2" height="30.40" fill="#f08d7e"/>
<rect x="1113.77" y="408.50" width="12.2" height="41.30" fill="#7b68e1"/>
<rect x="1127.67" y="167.20" width="12.2" height="186.80" fill="#a0a0a0"/>
<rect x="1127.67" y="354.00" width="12.2" height="6.20" fill="#f5d08c"/>
<rect x="1127.67" y="360.20" width="12.2" height="15.40" fill="#aae6d1"/>
<rect x="1127.67" y="375.60" width="12.2" height="2.50" fill="#90abe8"/>
<rect x="1127.67" y="378.10" width="12.2" height="1.60" fill="#dbe590"/>
<rect x="1127.67" y="379.70" width="12.2" height="4.50" fill="#68ab8b"/>
<rect x="1127.67" y="384.20" width="12.2" height="30.40" fill="#f08d7e"/>
<rect x="1127.67" y="414.60" width="12.2" height="1.40" fill="#f2c2e2"/>
<rect x="1127.67" y="416.00" width="12.2" height="33.80" fill="#7b68e1"/>
<rect x="1141.58" y="167.20" width="12.2" height="186.80" fill="#a0a0a0"/>
<rect x="1141.58" y="354.00" width="12.2" height="6.90" fill="#f5d08c"/>
<rect x="1141.58" y="360.90" width="12.2" height="18.80" fill="#aae6d1"/>
<rect x="1141.58" y="379.70" width="12.2" height="3.10" fill="#90abe8"/>
<rect x="1141.58" y="382.80" width="12.2" height="6.10" fill="#68ab8b"/>
<rect x="1141.58" y="388.90" width="12.2" height="27.10" fill="#f08d7e"/>
<rect x="1141.58" y="416.00" width="12.2" height="33.80" fill="#7b68e1"/>
<rect x="1155.49" y="167.20" width="12.2" height="184.80" fill="#a0a0a0"/>
<rect x="1155.49" y="352.00" width="12.2" height="5.40" fill="#f5d08c"/>
<rect x="1155.49" y="357.40" width="12.2" height="19.30" fill="#aae6d1"/>
<rect x="1155.49" y="376.70" width="12.2" height="4.50" fill="#90abe8"/>
<rect x="1155.49" y="381.20" width="12.2" height="1.60" fill="#dbe590"/>
<rect x="1155.49" y="382.80" width="12.2" height="6.10" fill="#68ab8b"/>
<rect x="1155.49" y="388.90" width="12.2" height="25.70" fill="#f08d7e"/>
<rect x="1155.49" y="414.60" width="12.2" height="1.40" fill="#f2c2e2"/>
<rect x="1155.49" y="416.00" width="12.2" height="33.80" fill="#7b68e1"/>
<rect x="1169.40" y="167.20" width="12.2" height="223.10" fill="#a0a0a0"/>
<rect x="1169.40" y="390.30" width="12.2" height="6.10" fill="#f5d08c"/>
<rect x="1169.40" y="396.40" width="12.2" height="12.50" fill="#aae6d1"/>
<rect x="1169.40" y="408.90" width="12.2" height="1.10" fill="#90abe8"/>
<rect x="1169.40" y="410.00" width="12.2" height="3.00" fill="#68ab8b"/>
<rect x="1169.40" y="413.00" width="12.2" height="14.80" fill="#f08d7e"/>
<rect x="1169.40" y="427.80" width="12.2" height="22.00" fill="#7b68e1"/>
<rect x="1183.31" y="167.20" width="12.2" height="174.80" fill="#a0a0a0"/>
<rect x="1183.31" y="342.00" width="12.2" height="6.00" fill="#f5d08c"/>
<rect x="1183.31" y="348.00" width="12.2" height="15.90" fill="#aae6d1"/>
<rect x="1183.31" y="363.90" width="12.2" height="3.00" fill="#90abe8"/>
<rect x="1183.31" y="366.90" width="12.2" height="8.80" fill="#68ab8b"/>
<rect x="1183.31" y="375.70" width="12.2" height="31.20" fill="#f08d7e"/>
<rect x="1183.31" y="406.90" width="12.2" height="42.90" fill="#7b68e1"/>
<rect x="1197.22" y="167.20" width="12.2" height="176.80" fill="#a0a0a0"/>
<rect x="1197.22" y="344.00" width="12.2" height="6.00" fill="#f5d08c"/>
<rect x="1197.22" y="350.00" width="12.2" height="20.40" fill="#aae6d1"/>
<rect x="1197.22" y="370.40" width="12.2" height="3.00" fill="#90abe8"/>
<rect x="1197.22" y="373.40" width="12.2" height="7.80" fill="#68ab8b"/>
<rect x="1197.22" y="381.20" width="12.2" height="27.30" fill="#f08d7e"/>
<rect x="1197.22" y="408.50" width="12.2" height="1.50" fill="#f2c2e2"/>
<rect x="1197.22" y="410.00" width="12.2" height="39.80" fill="#7b68e1"/>
<rect x="1211.13" y="167.20" width="12.2" height="176.80" fill="#a0a0a0"/>
<rect x="1211.13" y="344.00" width="12.2" height="6.00" fill="#f5d08c"/>
<rect x="1211.13" y="350.00" width="12.2" height="21.00" fill="#aae6d1"/>
<rect x="1211.13" y="371.00" width="12.2" height="2.40" fill="#90abe8"/>
<rect x="1211.13" y="373.40" width="12.2" height="1.60" fill="#dbe590"/>
<rect x="1211.13" y="375.00" width="12.2" height="9.20" fill="#68ab8b"/>
<rect x="1211.13" y="384.20" width="12.2" height="29.30" fill="#f08d7e"/>
<rect x="1211.13" y="413.50" width="12.2" height="1.10" fill="#f2c2e2"/>
<rect x="1211.13" y="414.60" width="12.2" height="35.20" fill="#7b68e1"/>
<rect x="1225.04" y="167.20" width="12.2" height="176.80" fill="#a0a0a0"/>
<rect x="1225.04" y="344.00" width="12.2" height="6.00" fill="#f5d08c"/>
<rect x="1225.04" y="350.00" width="12.2" height="20.00" fill="#aae6d1"/>
<rect x="1225.04" y="370.00" width="12.2" height="3.40" fill="#90abe8"/>
<rect x="1225.04" y="373.40" width="12.2" height="6.70" fill="#68ab8b"/>
<rect x="1225.04" y="380.10" width="12.2" height="23.80" fill="#f08d7e"/>
<rect x="1225.04" y="403.90" width="12.2" height="1.60" fill="#f2c2e2"/>
<rect x="1225.04" y="405.50" width="12.2" height="44.30" fill="#7b68e1"/>
<rect x="1238.95" y="167.20" width="12.2" height="185.80" fill="#a0a0a0"/>
<rect x="1238.95" y="353.00" width="12.2" height="10.30" fill="#f5d08c"/>
<rect x="1238.95" y="363.30" width="12.2" height="22.70" fill="#aae6d1"/>
<rect x="1238.95" y="386.00" width="12.2" height="3.00" fill="#90abe8"/>
<rect x="1238.95" y="389.00" width="12.2" height="9.00" fill="#68ab8b"/>
<rect x="1238.95" y="398.00" width="12.2" height="19.70" fill="#f08d7e"/>
<rect x="1238.95" y="417.70" width="12.2" height="1.40" fill="#f2c2e2"/>
<rect x="1238.95" y="419.10" width="12.2" height="30.70" fill="#7b68e1"/>
<rect x="1252.86" y="167.20" width="12.2" height="176.80" fill="#a0a0a0"/>
<rect x="1252.86" y="344.00" width="12.2" height="6.00" fill="#f5d08c"/>
<rect x="1252.86" y="350.00" width="12.2" height="21.00" fill="#aae6d1"/>
<rect x="1252.86" y="371.00" width="12.2" height="5.00" fill="#90abe8"/>
<rect x="1252.86" y="376.00" width="12.2" height="11.50" fill="#68ab8b"/>
<rect x="1252.86" y="387.50" width="12.2" height="27.10" fill="#f08d7e"/>
<rect x="1252.86" y="414.60" width="12.2" height="35.20" fill="#7b68e1"/>
<rect x="1266.77" y="167.20" width="12.2" height="178.80" fill="#a0a0a0"/>
<rect x="1266.77" y="346.00" width="12.2" height="6.00" fill="#f5d08c"/>
<rect x="1266.77" y="352.00" width="12.2" height="28.00" fill="#aae6d1"/>
<rect x="1266.77" y="380.00" width="12.2" height="3.20" fill="#90abe8"/>
<rect x="1266.77" y="383.20" width="12.2" height="5.80" fill="#68ab8b"/>
<rect x="1266.77" y="389.00" width="12.2" height="21.00" fill="#f08d7e"/>
<rect x="1266.77" y="410.00" width="12.2" height="1.60" fill="#f2c2e2"/>
<rect x="1266.77" y="411.60" width="12.2" height="38.20" fill="#7b68e1"/>
<rect x="1280.67" y="167.20" width="12.2" height="200.80" fill="#a0a0a0"/>
<rect x="1280.67" y="368.00" width="12.2" height="5.50" fill="#f5d08c"/>
<rect x="1280.67" y="373.50" width="12.2" height="21.40" fill="#aae6d1"/>
<rect x="1280.67" y="394.90" width="12.2" height="0.60" fill="#90abe8"/>
<rect x="1280.67" y="395.50" width="12.2" height="8.60" fill="#68ab8b"/>
<rect x="1280.67" y="404.10" width="12.2" height="15.00" fill="#f08d7e"/>
<rect x="1280.67" y="419.10" width="12.2" height="7.70" fill="#f2c2e2"/>
<rect x="1280.67" y="426.80" width="12.2" height="23.00" fill="#7b68e1"/>
<rect x="1294.58" y="167.20" width="12.2" height="172.80" fill="#a0a0a0"/>
<rect x="1294.58" y="340.00" width="12.2" height="5.00" fill="#f5d08c"/>
<rect x="1294.58" y="345.00" width="12.2" height="10.50" fill="#aae6d1"/>
<rect x="1294.58" y="355.50" width="12.2" height="1.30" fill="#90abe8"/>
<rect x="1294.58" y="356.80" width="12.2" height="1.00" fill="#dbe590"/>
<rect x="1294.58" y="357.80" width="12.2" height="7.10" fill="#68ab8b"/>
<rect x="1294.58" y="364.90" width="12.2" height="20.90" fill="#f08d7e"/>
<rect x="1294.58" y="385.80" width="12.2" height="5.10" fill="#f2c2e2"/>
<rect x="1294.58" y="390.90" width="12.2" height="58.90" fill="#7b68e1"/>
<rect x="1308.49" y="167.20" width="12.2" height="173.80" fill="#a0a0a0"/>
<rect x="1308.49" y="341.00" width="12.2" height="5.00" fill="#f5d08c"/>
<rect x="1308.49" y="346.00" width="12.2" height="9.80" fill="#aae6d1"/>
<rect x="1308.49" y="355.80" width="12.2" height="3.00" fill="#90abe8"/>
<rect x="1308.49" y="358.80" width="12.2" height="6.10" fill="#68ab8b"/>
<rect x="1308.49" y="364.90" width="12.2" height="24.00" fill="#f08d7e"/>
<rect x="1308.49" y="388.90" width="12.2" height="3.00" fill="#f2c2e2"/>
<rect x="1308.49" y="391.90" width="12.2" height="57.90" fill="#7b68e1"/>
<rect x="1322.40" y="167.20" width="12.2" height="178.40" fill="#a0a0a0"/>
<rect x="1322.40" y="345.60" width="12.2" height="6.10" fill="#f5d08c"/>
<rect x="1322.40" y="351.70" width="12.2" height="22.30" fill="#aae6d1"/>
<rect x="1322.40" y="374.00" width="12.2" height="16.50" fill="#68ab8b"/>
<rect x="1322.40" y="390.50" width="12.2" height="21.10" fill="#f08d7e"/>
<rect x="1322.40" y="411.60" width="12.2" height="3.00" fill="#f2c2e2"/>
<rect x="1322.40" y="414.60" width="12.2" height="35.20" fill="#7b68e1"/>
<rect x="1336.31" y="167.20" width="12.2" height="203.80" fill="#a0a0a0"/>
<rect x="1336.31" y="371.00" width="12.2" height="4.70" fill="#f5d08c"/>
<rect x="1336.31" y="375.70" width="12.2" height="18.60" fill="#aae6d1"/>
<rect x="1336.31" y="394.30" width="12.2" height="1.70" fill="#90abe8"/>
<rect x="1336.31" y="396.00" width="12.2" height="9.50" fill="#68ab8b"/>
<rect x="1336.31" y="405.50" width="12.2" height="17.80" fill="#f08d7e"/>
<rect x="1336.31" y="423.30" width="12.2" height="1.50" fill="#f2c2e2"/>
<rect x="1336.31" y="424.80" width="12.2" height="25.00" fill="#7b68e1"/>
</g>
<g font-weight="bold" fill="#000" fill-opacity="0.065">
<text x="588.5" y="304" font-size="60" letter-spacing="-5.1" id="wm">Blockworks</text>
</g>
<g fill="#000" fill-opacity="0.06" stroke="#000" stroke-opacity="0.06" stroke-width="0.6"><text x="913" y="295.5" font-size="27" letter-spacing="-0.8">Research</text></g>
<rect x="901.5" y="268.5" width="135" height="34" rx="5" fill="none" stroke="#000" stroke-opacity="0.035" stroke-width="1.5"/>
<line x1="84" x2="1349.5" y1="393.9" y2="393.9" stroke="#000" stroke-opacity="0.04" stroke-width="1"/>
<line x1="84" x2="1349.5" y1="337.2" y2="337.2" stroke="#000" stroke-opacity="0.04" stroke-width="1"/>
<line x1="84" x2="1349.5" y1="280.6" y2="280.6" stroke="#000" stroke-opacity="0.04" stroke-width="1"/>
<line x1="84" x2="1349.5" y1="223.9" y2="223.9" stroke="#000" stroke-opacity="0.04" stroke-width="1"/>

<line x1="84" x2="1349.5" y1="449.9" y2="449.9" stroke="#e4e4ea" stroke-width="1" opacity="0"/>
<line x1="84" x2="1349.5" y1="371.9" y2="371.9" stroke="#606060" stroke-opacity="0.42" stroke-width="1.2" stroke-dasharray="2.4 3.6"/>
<line x1="1344.2" x2="1344.2" y1="167.5" y2="449.5" stroke="#606060" stroke-opacity="0.42" stroke-width="1.2" stroke-dasharray="2.4 3.6"/>
<g font-size="13.7px" fill="#4d4d4d">
<text x="80" y="456.7" text-anchor="end">0%</text>
<text x="80" y="400.0" text-anchor="end">20%</text>
<text x="80" y="343.3" text-anchor="end">40%</text>
<text x="80" y="286.7" text-anchor="end">60%</text>
<text x="80" y="230.0" text-anchor="end">80%</text>
<text x="80" y="173.3" text-anchor="end">100%</text>

</g>
<g font-size="14.6px" fill="#4d4d4d">
<text x="90.6" y="477.3" text-anchor="middle">Aug 29</text>
<text x="215.8" y="477.3" text-anchor="middle">Sep 7</text>
<text x="341.0" y="477.3" text-anchor="middle">Sep 16</text>
<text x="466.1" y="477.3" text-anchor="middle">Sep 25</text>
<text x="591.3" y="477.3" text-anchor="middle">Oct 4</text>
<text x="716.5" y="477.3" text-anchor="middle">Oct 13</text>
<text x="841.7" y="477.3" text-anchor="middle">Oct 22</text>
<text x="966.9" y="477.3" text-anchor="middle">Oct 31</text>
<text x="1092.0" y="477.3" text-anchor="middle">Nov 9</text>
<text x="1217.2" y="477.3" text-anchor="middle">Nov 18</text>
<text x="1342.4" y="477.3" text-anchor="middle">Nov 27</text>

</g>
</svg>

<div id="tip" class="abs">
<div class="hd">Nov 27, 2025</div>
<div class="row" style="top:50.4px"><span class="dot" style="background:#8c8c8c"></span><span class="nm">SOL-Stablecoin</span><span class="vl" style="letter-spacing:-0.6px">71.8%</span></div>
<div class="row" style="top:73.8px"><span class="dot" style="background:#5a3fd2"></span><span class="nm">Memes</span><span class="vl" style="letter-spacing:-0.2px">9.2%</span></div>
<div class="row" style="top:97.3px"><span class="dot" style="background:#ec7768"></span><span class="nm">Project Tokens</span><span class="vl" style="letter-spacing:0.1px">6.42%</span></div>
<div class="row" style="top:120.8px"><span class="dot" style="background:#a3e6c8"></span><span class="nm">Stablecoin Swaps</span><span class="vl" style="letter-spacing:-0.6px">6.14%</span></div>
<div class="row" style="top:144.2px"><span class="dot" style="background:#4c9c74"></span><span class="nm">Composite Assets</span><span class="vl" style="letter-spacing:0.1px">3.28%</span></div>
<div class="row" style="top:167.7px"><span class="dot" style="background:#ecc67a"></span><span class="nm">Bitcoin</span><span class="vl" style="letter-spacing:-0.85px">1.73%</span></div>
<div class="row" style="top:191.1px"><span class="dot" style="background:#7a9fe8"></span><span class="nm">LST Swaps</span><span class="vl" style="letter-spacing:-0.2px">0.7501%</span></div>
<div class="row" style="top:214.6px"><span class="dot" style="background:#e8badc"></span><span class="nm">AI Agents</span><span class="vl" style="letter-spacing:0.5px">0.6046%</span></div>
<div class="row" style="top:238.0px"><span class="dot" style="background:#d8de5c"></span><span class="nm">Tokenized Assets</span><span class="vl" style="letter-spacing:0.42px">0.0832%</span></div>

<div class="row" style="top:261.4px"><span class="nm" style="left:25.6px">Total</span><span class="vl">100%</span></div>
</div>
</body></html>
